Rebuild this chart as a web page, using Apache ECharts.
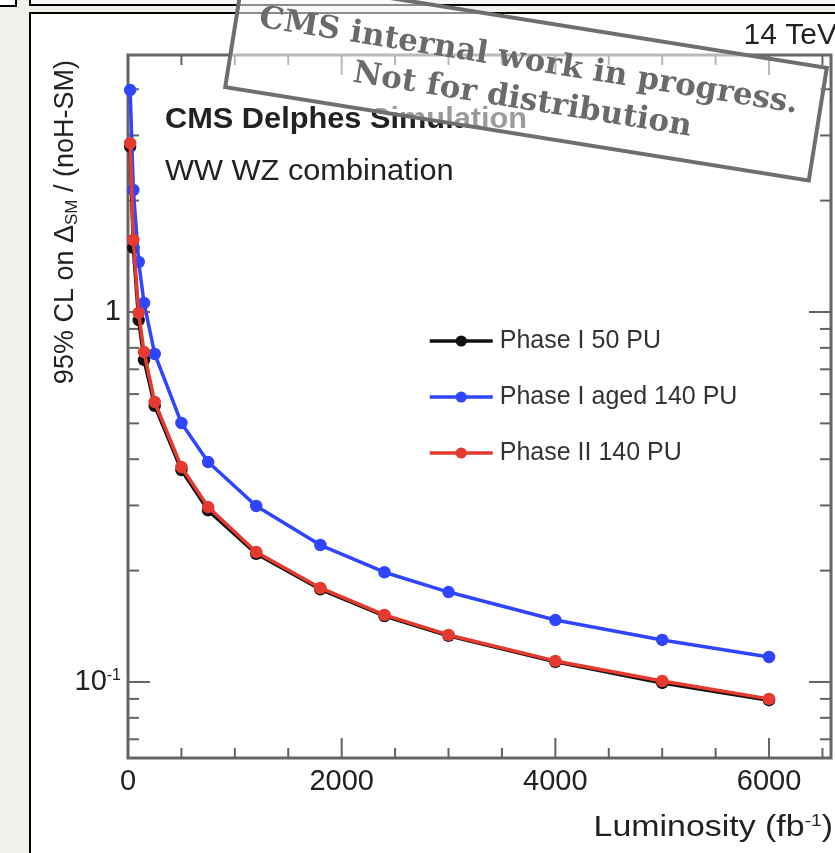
<!DOCTYPE html>
<html><head><meta charset="utf-8">
<script src="https://cdn.jsdelivr.net/npm/echarts@6/dist/echarts.min.js"></script>
<style>
html,body{margin:0;padding:0;background:#f1f0eb;overflow:hidden}
#topbox{position:absolute;left:29px;top:-20px;width:900px;height:22px;border:2px solid #000;background:#f7f7f5}
#cornerbox{position:absolute;left:-10px;top:-10px;width:23px;height:13px;border:2px solid #000;background:#fff}
#page{position:absolute;left:29px;top:12px;width:900px;height:900px;border:2px solid #000;background:#fff}
#c{position:absolute;left:0;top:0;width:835px;height:853px}
</style>
</head><body>
<div id="topbox"></div><div id="cornerbox"></div><div id="page"></div>
<div id="c"></div>
<script>
// ---- data ----
const luminosity = [20, 50, 100, 150, 250, 500, 750, 1200, 1800, 2400, 3000, 4000, 5000, 6000];
const phaseI_50PU = [2.80, 1.49, 0.951, 0.742, 0.558, 0.374, 0.291, 0.222, 0.178, 0.1508, 0.1333, 0.1133, 0.0994, 0.0893];
const phaseIaged_140PU = [3.98, 2.137, 1.365, 1.058, 0.770, 0.501, 0.393, 0.299, 0.2345, 0.198, 0.175, 0.147, 0.1299, 0.1168];
const phaseII_140PU = [2.86, 1.565, 0.994, 0.779, 0.571, 0.381, 0.297, 0.2245, 0.1795, 0.1518, 0.134, 0.114, 0.1006, 0.0900];
const seriesNames = ['Phase I 50 PU', 'Phase I aged 140 PU', 'Phase II 140 PU'];
const xTickLabels = [0, 2000, 4000, 6000];
const xMinorTicks = [500, 1000, 1500, 2500, 3000, 3500, 4500, 5000, 5500, 6500];
const yTickLabels = [0.1, 1];
const yMinorTicks = [0.07, 0.08, 0.09, 0.2, 0.3, 0.4, 0.5, 0.6, 0.7, 0.8, 0.9, 2, 3, 4];
const X_MIN = 0, X_MAX = 6580, Y_MIN = 0.0623, Y_MAX = 4.95;

const FONT = '"Liberation Sans", Arial, Helvetica, sans-serif';
const TICK = '#636363';
const colors = ['#111111', '#2f45ff', '#e53a30'];
const datasets = [phaseI_50PU, phaseIaged_140PU, phaseII_140PU];

const chart = echarts.init(document.getElementById('c'), null, {renderer: 'canvas'});

function xLabel(v) { return xTickLabels.indexOf(v) >= 0 ? String(v) : ''; }
function yLabel(v) {
  const e = Math.log10(v), r = Math.round(e);
  if (Math.abs(e - r) > 1e-6) return '';
  return r === 0 ? '1' : '10{sup|' + r + '}';
}

const lineSeries = seriesNames.map((name, k) => ({
  name, type: 'line', xAxisIndex: 0, yAxisIndex: 0,
  data: luminosity.map((x, i) => [x, datasets[k][i]]),
  symbol: 'circle', symbolSize: 12.5, showSymbol: true,
  lineStyle: {width: 3.5, color: colors[k]},
  itemStyle: {color: colors[k]},
  z: 3 + k
}));

const tickStyle = {stroke: TICK, lineWidth: 2};
// y ticks (left and right), drawn through the y scale
const yTicks = {
  type: 'custom', silent: true, xAxisIndex: 0, yAxisIndex: 0, z: 1,
  data: yTickLabels.concat(yMinorTicks).map(v => [X_MIN, v]),
  renderItem(params, api) {
    const v = api.value(1);
    const len = yTickLabels.indexOf(v) >= 0 ? 22 : 11;
    const l = api.coord([X_MIN, v]), r = api.coord([X_MAX, v]);
    return {type: 'group', children: [
      {type: 'line', shape: {x1: l[0], y1: l[1], x2: l[0] + len, y2: l[1]}, style: tickStyle},
      {type: 'line', shape: {x1: r[0] - len, y1: r[1], x2: r[0], y2: r[1]}, style: tickStyle}
    ]};
  }
};
// x ticks (bottom and top), drawn through the x scale
const xTicks = {
  type: 'custom', silent: true, xAxisIndex: 0, yAxisIndex: 0, z: 1,
  data: xTickLabels.concat(xMinorTicks).map(v => [v, Y_MIN]),
  renderItem(params, api) {
    const v = api.value(0);
    const len = xTickLabels.indexOf(v) >= 0 ? 20 : 10;
    const b = api.coord([v, Y_MIN]), t = api.coord([v, Y_MAX]);
    return {type: 'group', children: [
      {type: 'line', shape: {x1: b[0], y1: b[1], x2: b[0], y2: b[1] - len}, style: tickStyle},
      {type: 'line', shape: {x1: t[0], y1: t[1], x2: t[0], y2: t[1] + len}, style: tickStyle}
    ]};
  }
};

const theta = -9.1 * Math.PI / 180;

chart.setOption({
  animation: false,
  backgroundColor: 'transparent',
  grid: {left: 128, right: 4, top: 55, bottom: 95, show: true, borderColor: '#666666', borderWidth: 3, backgroundColor: 'transparent'},
  xAxis: {type: 'value', min: X_MIN, max: X_MAX, interval: 2000, position: 'bottom',
    axisLine: {show: false}, splitLine: {show: false}, axisTick: {show: false},
    axisLabel: {formatter: xLabel, fontFamily: FONT, fontSize: 29, color: '#222', margin: 9}},
  yAxis: {type: 'log', logBase: 10, min: Y_MIN, max: Y_MAX, position: 'left',
    axisLine: {show: false}, splitLine: {show: false}, axisTick: {show: false},
    axisLabel: {formatter: yLabel, fontFamily: FONT, fontSize: 29, color: '#222', margin: 7,
      rich: {sup: {fontFamily: FONT, fontSize: 16, color: '#222', verticalAlign: 'top', padding: [0, 0, 12, 0]}}}},
  legend: {
    data: seriesNames, orient: 'vertical', left: 423, top: 323,
    itemWidth: 63, itemHeight: 14, itemGap: 30,
    lineStyle: {width: 3.5},
    textStyle: {fontFamily: FONT, fontSize: 25, color: '#333', lineHeight: 26, padding: [0, 0, 0, 2]}
  },
  series: [...lineSeries, yTicks, xTicks],
  graphic: [
    {type: 'text', x: 165, y: 120, z: 10, scaleX: 1.06,
     style: {text: 'CMS Delphes Simulation', font: 'bold 29px ' + FONT, fill: '#222', align: 'left', verticalAlign: 'middle', textAlign: 'left', textVerticalAlign: 'middle'}},
    {type: 'text', x: 165, y: 172, z: 10, scaleX: 1.06,
     style: {text: 'WW WZ combination', font: '29px ' + FONT, fill: '#222', align: 'left', verticalAlign: 'middle', textAlign: 'left', textVerticalAlign: 'middle'}},
    {type: 'text', x: 837, y: 36, z: 10,
     style: {text: '14 TeV', font: '30px ' + FONT, fill: '#222', align: 'right', verticalAlign: 'middle', textAlign: 'right', textVerticalAlign: 'middle'}},
    {type: 'text', x: 833, y: 828, z: 10, scaleX: 1.13,
     style: {text: 'Luminosity (fb{sup|-1})', font: '30px ' + FONT, fill: '#222', align: 'right', verticalAlign: 'middle', textAlign: 'right', textVerticalAlign: 'middle',
       rich: {sup: {fontFamily: FONT, fontSize: 17, fill: '#222', verticalAlign: 'top', padding: [0, 0, 12, 0]}}}},
    {type: 'text', x: 66, y: 60, rotation: Math.PI / 2, z: 10,
     style: {text: '95% CL on Δ{sub|SM} / (noH-SM)', font: '27px ' + FONT, fill: '#222', align: 'right', verticalAlign: 'middle', textAlign: 'right', textVerticalAlign: 'middle',
       rich: {sub: {fontFamily: FONT, fontSize: 17, fill: '#222', verticalAlign: 'bottom', padding: [12, 0, 0, 0]}}}},
    {type: 'group', x: 526, y: 77.5, rotation: theta, z: 100, children: [
      {type: 'rect', z: 100, shape: {x: -295.5, y: -57, width: 591, height: 114},
       style: {fill: 'rgba(255,255,255,0.55)', stroke: '#6e6e6e', lineWidth: 4}},
      {type: 'text', z: 101, x: 0, y: -16,
       style: {text: 'CMS internal work in progress.', font: 'bold 31px "DejaVu Serif", serif', fill: '#6a6a6a', align: 'center', verticalAlign: 'middle', textAlign: 'center', textVerticalAlign: 'middle'}},
      {type: 'text', z: 101, x: 0, y: 23.5,
       style: {text: 'Not for distribution', font: 'bold 31px "DejaVu Serif", serif', fill: '#6a6a6a', align: 'center', verticalAlign: 'middle', textAlign: 'center', textVerticalAlign: 'middle'}}
    ]}
  ]
});
</script>
</body></html>
